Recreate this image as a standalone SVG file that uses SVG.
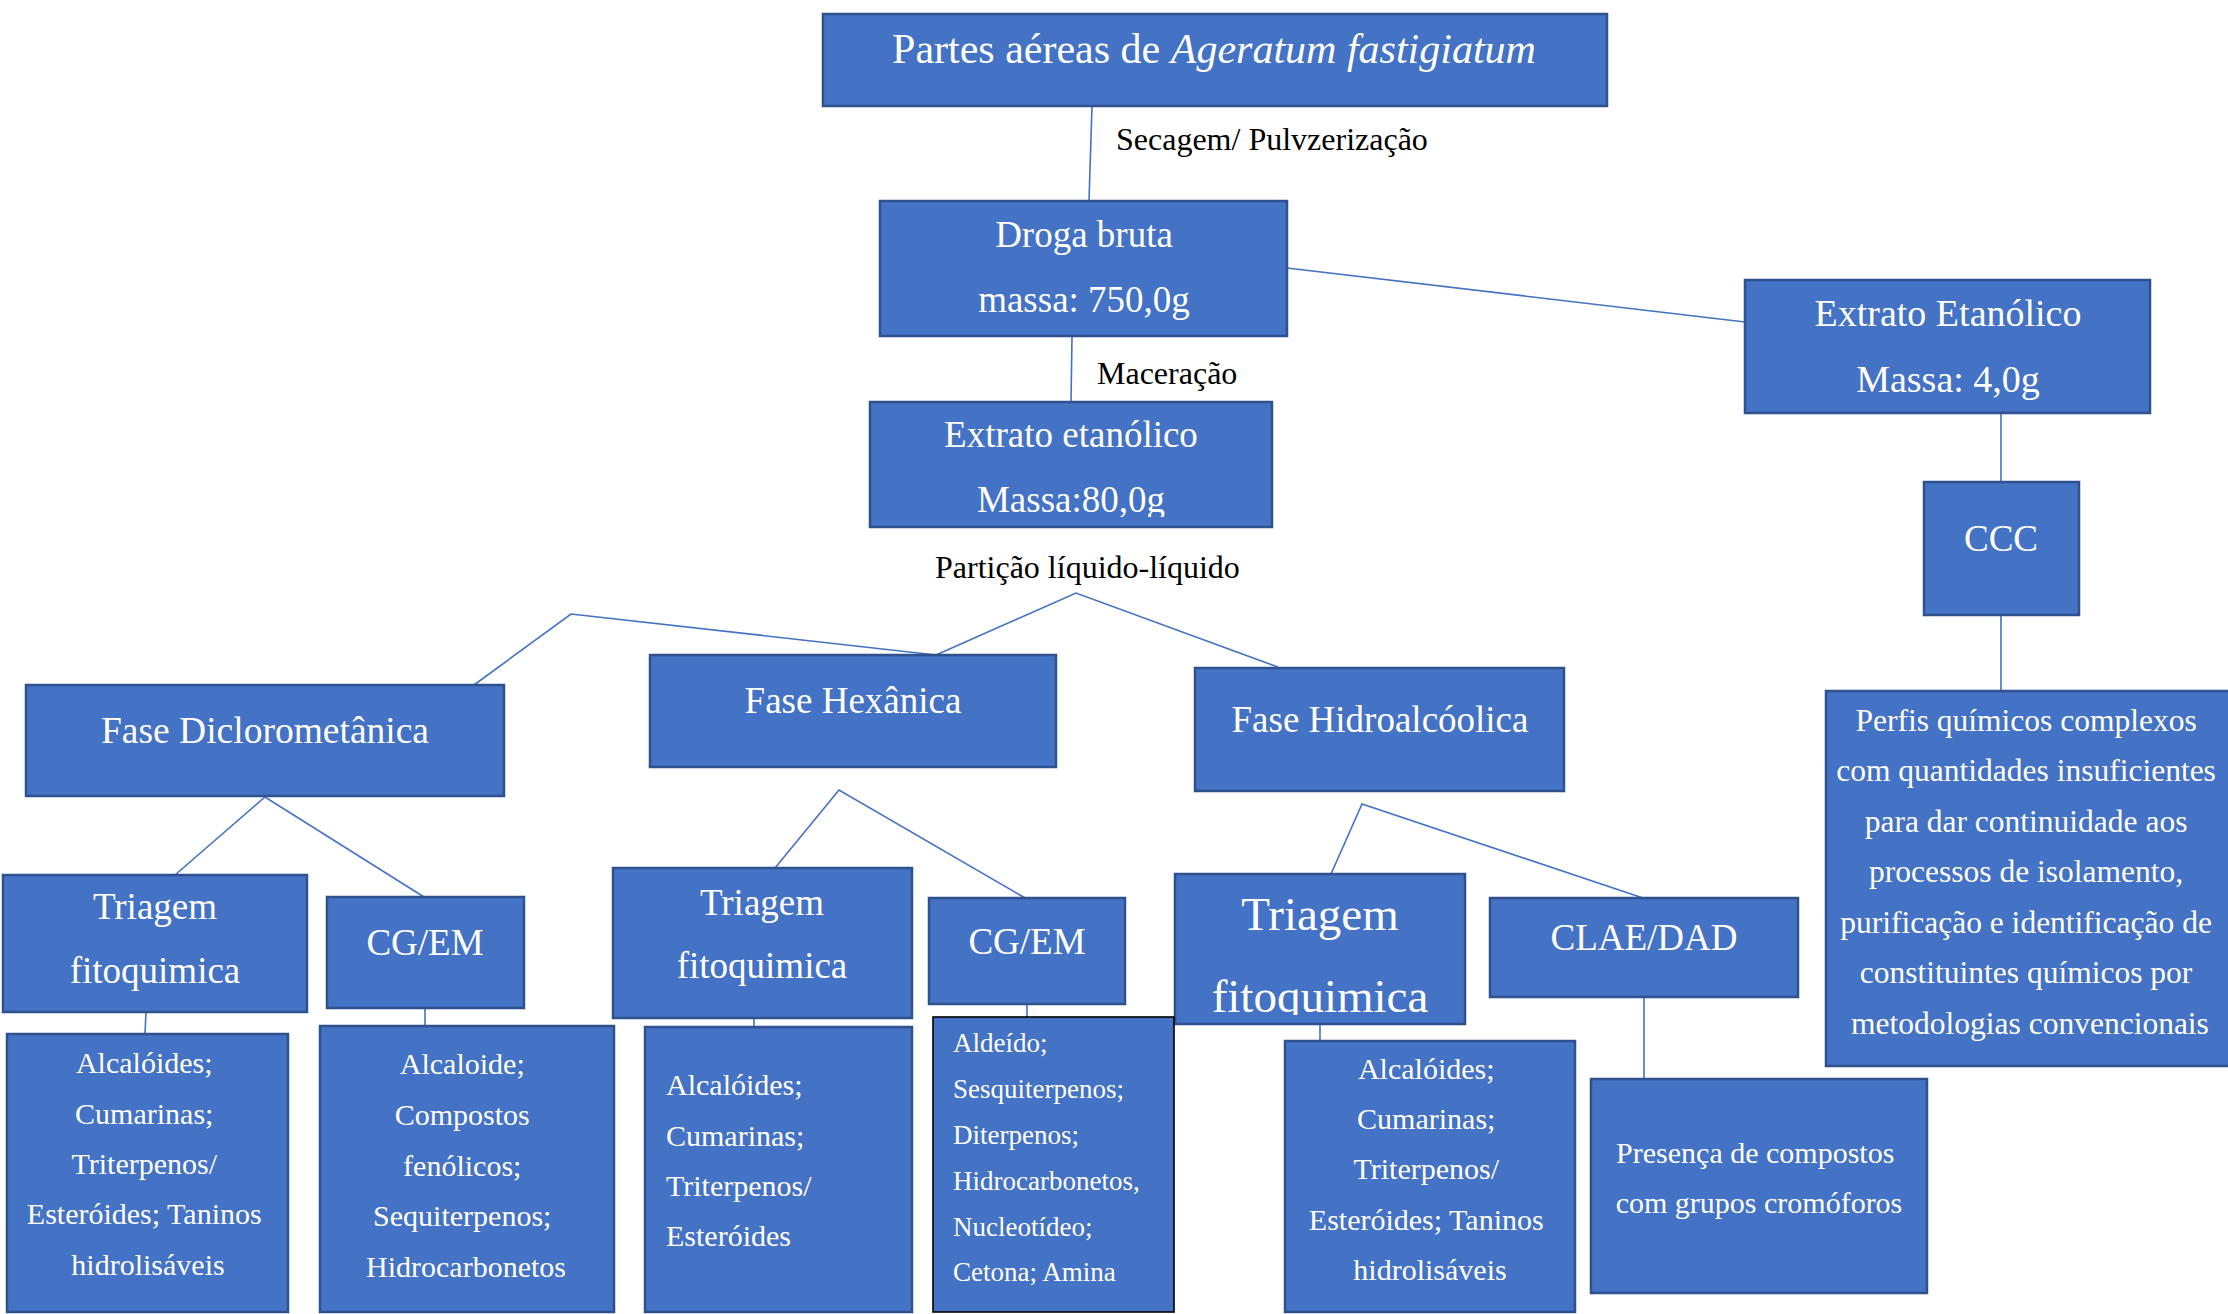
<svg xmlns="http://www.w3.org/2000/svg" width="2228" height="1314" viewBox="0 0 2228 1314">
  <style>
    .box { fill: #4472C4; stroke: #2F528F; stroke-width: 2.5; }
    .boxk { fill: #4472C4; stroke: #000000; stroke-width: 1.6; }
    .t { font-family: "Liberation Serif", "Times New Roman", serif; fill: #ffffff; }
    .c { text-anchor: middle; }
    .lbl { font-family: "Liberation Serif", "Times New Roman", serif; fill: #000000; font-size: 32px; }
    .f36 { font-size: 37px; }
    .f30 { font-size: 30px; }
    .f27 { font-size: 27px; }
    .link { stroke: #4472C4; stroke-width: 1.6; fill: none; }
  </style>
  <defs>
    <clipPath id="clipTri3"><rect x="1175" y="874" width="290" height="141"/></clipPath>
    <clipPath id="clipEtan"><rect x="870" y="402" width="402" height="115"/></clipPath>
  </defs>
  <rect width="2228" height="1314" fill="#ffffff"/>

  <g id="connectors">
    <line class="link" x1="1092" y1="106" x2="1089" y2="201"/>
    <line class="link" x1="1072" y1="336" x2="1071" y2="402"/>
    <line class="link" x1="1287" y1="268" x2="1745" y2="322"/>
    <line class="link" x1="2001" y1="413" x2="2001" y2="482"/>
    <line class="link" x1="2001" y1="615" x2="2001" y2="691"/>
    <polyline class="link" points="474,685 571,614 936,655"/>
    <polyline class="link" points="936,655 1076,593 1278,667"/>
    <polyline class="link" points="175,875 265,797 424,897"/>
    <polyline class="link" points="775,868 839,790 1025,898"/>
    <polyline class="link" points="1331,874 1362,804 1643,898"/>
    <line class="link" x1="146" y1="1012" x2="145" y2="1034"/>
    <line class="link" x1="425" y1="1008" x2="425" y2="1026"/>
    <line class="link" x1="754" y1="1018" x2="754" y2="1027"/>
    <line class="link" x1="1027" y1="1004" x2="1027" y2="1017"/>
    <line class="link" x1="1320" y1="1024" x2="1320" y2="1041"/>
    <line class="link" x1="1644" y1="997" x2="1644" y2="1079"/>
  </g>

  <g id="edge-labels">
    <text class="lbl" x="1116" y="150">Secagem/ Pulvzerização</text>
    <text class="lbl" x="1097" y="384">Maceração</text>
    <text class="lbl" x="935" y="578">Partição líquido-líquido</text>
  </g>

  <g id="node-partes">
    <rect class="box" x="823" y="14" width="784" height="92"/>
    <text class="t c" x="1214" y="63" font-size="42">Partes aéreas de <tspan font-style="italic">Ageratum fastigiatum</tspan></text>
  </g>

  <g id="node-droga">
    <rect class="box" x="880" y="201" width="407" height="135"/>
    <text class="t c f36" x="1084" y="247">Droga bruta</text>
    <text class="t c f36" x="1084" y="312">massa: 750,0g</text>
  </g>

  <g id="node-extrato-etanolico-direita">
    <rect class="box" x="1745" y="280" width="405" height="133"/>
    <text class="t c" font-size="38" x="1948" y="326">Extrato Etanólico</text>
    <text class="t c" font-size="38" x="1948" y="392">Massa: 4,0g</text>
  </g>

  <g id="node-ccc">
    <rect class="box" x="1924" y="482" width="155" height="133"/>
    <text class="t c f36" x="2001" y="551">CCC</text>
  </g>

  <g id="node-perfis">
    <rect class="box" x="1826" y="691" width="410" height="375"/>
    <text class="t c" font-size="31.5" x="2030">
      <tspan x="2030" y="731">Perfis químicos complexos</tspan>
      <tspan x="2030" y="781">com quantidades insuficientes</tspan>
      <tspan x="2030" y="832">para dar continuidade aos</tspan>
      <tspan x="2030" y="882">processos de isolamento,</tspan>
      <tspan x="2030" y="933">purificação e identificação de</tspan>
      <tspan x="2030" y="983">constituintes químicos por</tspan>
      <tspan x="2030" y="1034">metodologias convencionais</tspan>
    </text>
  </g>

  <g id="node-extrato-etanolico">
    <rect class="box" x="870" y="402" width="402" height="125"/>
    <text class="t c f36" x="1071" y="447">Extrato etanólico</text>
    <text class="t c f36" x="1071" y="512" clip-path="url(#clipEtan)">Massa:80,0g</text>
  </g>

  <g id="node-fase-diclorometanica">
    <rect class="box" x="26" y="685" width="478" height="111"/>
    <text class="t c" font-size="37.5" x="265" y="743">Fase Diclorometânica</text>
  </g>

  <g id="node-fase-hexanica">
    <rect class="box" x="650" y="655" width="406" height="112"/>
    <text class="t c f36" x="853" y="713">Fase Hexânica</text>
  </g>

  <g id="node-fase-hidroalcoolica">
    <rect class="box" x="1195" y="668" width="369" height="123"/>
    <text class="t c f36" x="1380" y="732">Fase Hidroalcóolica</text>
  </g>

  <g id="node-triagem-1">
    <rect class="box" x="3" y="875" width="304" height="137"/>
    <text class="t c f36" x="155" y="919">Triagem</text>
    <text class="t c f36" x="155" y="983">fitoquimica</text>
  </g>

  <g id="node-cgem-1">
    <rect class="box" x="327" y="897" width="197" height="111"/>
    <text class="t c f36" x="425" y="955">CG/EM</text>
  </g>

  <g id="node-triagem-2">
    <rect class="box" x="613" y="868" width="299" height="150"/>
    <text class="t c f36" x="762" y="915">Triagem</text>
    <text class="t c f36" x="762" y="978">fitoquimica</text>
  </g>

  <g id="node-cgem-2">
    <rect class="box" x="929" y="898" width="196" height="106"/>
    <text class="t c f36" x="1027" y="954">CG/EM</text>
  </g>

  <g id="node-triagem-3">
    <rect class="box" x="1175" y="874" width="290" height="150"/>
    <text class="t c" font-size="47" x="1320" y="930">Triagem</text>
    <text class="t c" font-size="47" x="1320" y="1012" clip-path="url(#clipTri3)">fitoquimica</text>
  </g>

  <g id="node-clae-dad">
    <rect class="box" x="1490" y="898" width="308" height="99"/>
    <text class="t c f36" x="1644" y="950">CLAE/DAD</text>
  </g>

  <g id="node-resultado-1">
    <rect class="box" x="7" y="1034" width="281" height="278"/>
    <text class="t c f30">
      <tspan x="148" y="1073">Alcalóides;</tspan>
      <tspan x="148" y="1124">Cumarinas;</tspan>
      <tspan x="148" y="1174">Triterpenos/</tspan>
      <tspan x="148" y="1224">Esteróides; Taninos</tspan>
      <tspan x="148" y="1275">hidrolisáveis</tspan>
    </text>
  </g>

  <g id="node-resultado-2">
    <rect class="box" x="320" y="1026" width="294" height="286"/>
    <text class="t c f30">
      <tspan x="466" y="1074">Alcaloide;</tspan>
      <tspan x="466" y="1125">Compostos</tspan>
      <tspan x="466" y="1176">fenólicos;</tspan>
      <tspan x="466" y="1226">Sequiterpenos;</tspan>
      <tspan x="466" y="1277">Hidrocarbonetos</tspan>
    </text>
  </g>

  <g id="node-resultado-3">
    <rect class="box" x="645" y="1027" width="267" height="285"/>
    <text class="t f30">
      <tspan x="666" y="1095">Alcalóides;</tspan>
      <tspan x="666" y="1146">Cumarinas;</tspan>
      <tspan x="666" y="1196">Triterpenos/</tspan>
      <tspan x="666" y="1246">Esteróides</tspan>
    </text>
  </g>

  <g id="node-resultado-4">
    <rect class="boxk" x="933" y="1017" width="241" height="295"/>
    <text class="t f27">
      <tspan x="953" y="1052">Aldeído;</tspan>
      <tspan x="953" y="1098">Sesquiterpenos;</tspan>
      <tspan x="953" y="1144">Diterpenos;</tspan>
      <tspan x="953" y="1190">Hidrocarbonetos,</tspan>
      <tspan x="953" y="1236">Nucleotídeo;</tspan>
      <tspan x="953" y="1281">Cetona; Amina</tspan>
    </text>
  </g>

  <g id="node-resultado-5">
    <rect class="box" x="1285" y="1041" width="290" height="271"/>
    <text class="t c f30">
      <tspan x="1430" y="1079">Alcalóides;</tspan>
      <tspan x="1430" y="1129">Cumarinas;</tspan>
      <tspan x="1430" y="1179">Triterpenos/</tspan>
      <tspan x="1430" y="1230">Esteróides; Taninos</tspan>
      <tspan x="1430" y="1280">hidrolisáveis</tspan>
    </text>
  </g>

  <g id="node-resultado-6">
    <rect class="box" x="1591" y="1079" width="336" height="214"/>
    <text class="t c f30">
      <tspan x="1759" y="1163">Presença de compostos</tspan>
      <tspan x="1759" y="1213">com grupos cromóforos</tspan>
    </text>
  </g>
</svg>
